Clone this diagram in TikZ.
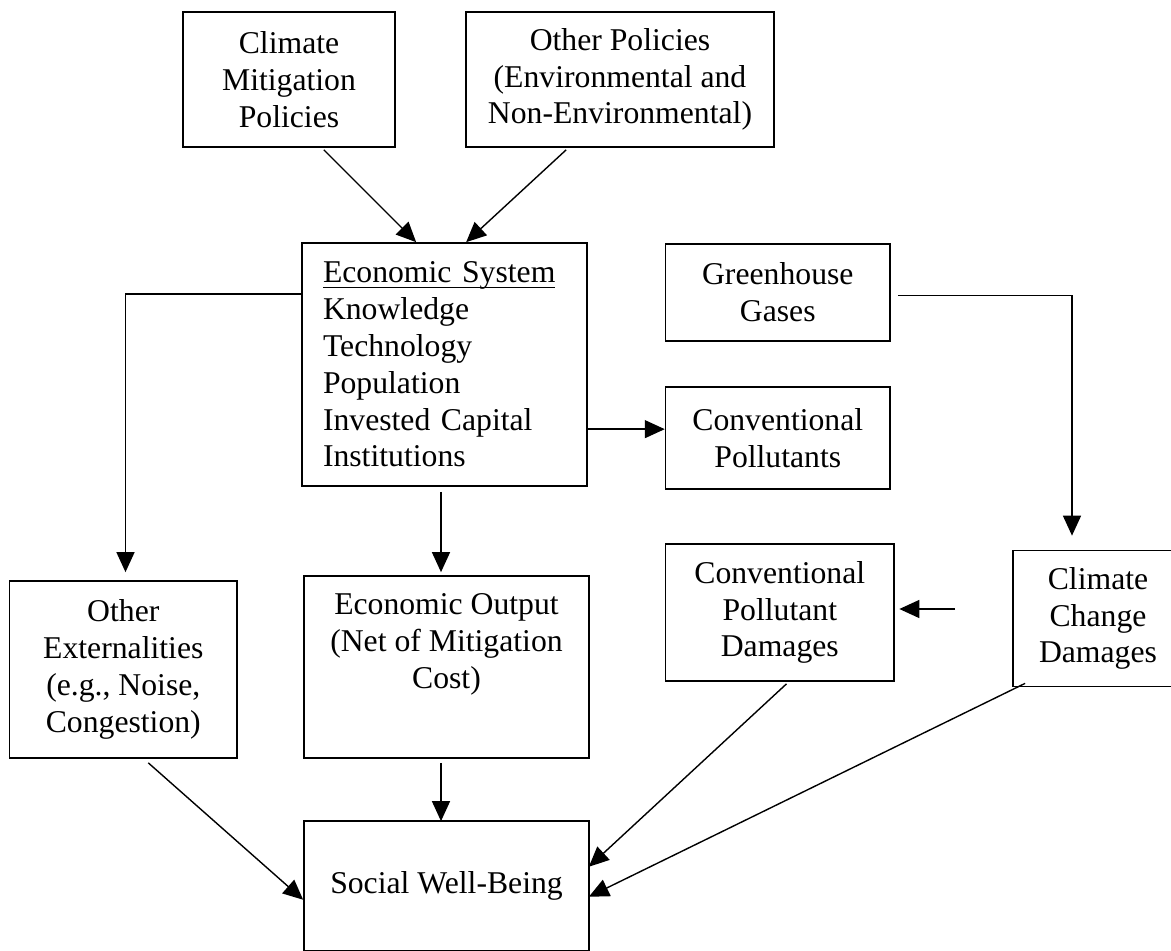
\documentclass[tikz,border=0pt]{standalone}
\usepackage{fontspec}
\setmainfont{Liberation Serif}
\usetikzlibrary{arrows.meta,calc}
\newcommand\ulbar[1]{\setbox0\hbox{#1}\rlap{\rule[-5.5pt]{\wd0}{1.5pt}}\box0}
\begin{document}
\begin{tikzpicture}[x=1pt,y=-1pt,
  font=\fontsize{31.7}{36.8}\selectfont,
  box/.style={draw, line width=1.7pt, inner sep=0pt, align=center},
  conn/.style={line width=1.4pt, -{Triangle[length=20pt,width=18pt]}}]
\fill[white] (0,0) rectangle (1171,951);
\useasboundingbox (0,0) rectangle (1171,951);

\node[box, minimum width=212pt, minimum height=135pt] (cmp) at (289,79.5) {Climate\\Mitigation\\Policies};
\node[box, minimum width=308pt, minimum height=135pt] (op) at (620,79.5) {Other Policies\\(Environmental and\\Non-Environmental)};
\node[box, align=left, text width=243pt, inner xsep=21pt, minimum width=285pt, minimum height=243pt] (es) at (444.5,364.5)
  {\ulbar{Economic System}\\Knowledge\\Technology\\Population\\Invested Capital\\Institutions};
\node[box, minimum width=224.4pt, minimum height=97pt] (ghg) at (777.8,292.5) {Greenhouse\\Gases};
\node[box, minimum width=224.4pt, minimum height=102pt] (cp) at (777.8,438) {Conventional\\Pollutants};
\node[box, minimum width=227.4pt, minimum height=177pt] (oe) at (123.3,669.5) {Other\\Externalities\\(e.g., Noise,\\Congestion)};
\node[box, minimum width=285pt, minimum height=182pt] (eo) at (446.5,667) {};
\node[anchor=north, align=center, inner sep=0pt] (eot) at (446.5,593.6) {Economic Output\\(Net of Mitigation\\Cost)};
\node[box, minimum width=228.4pt, minimum height=137pt] (cpd) at (779.8,612.5) {Conventional\\Pollutant\\Damages};
\node[box, minimum width=170pt, minimum height=136pt] (ccd) at (1098,618.5) {Climate\\Change\\Damages};
\node[box, minimum width=285pt, minimum height=129.5pt] (swb) at (446.5,885.75) {Social Well-Being};

\draw[conn] ([xshift=-72pt,yshift=-2pt]cmp.south east) -- ([xshift=115pt]es.north west);
\draw[conn] ([xshift=101pt,yshift=-2pt]op.south west) -- ([xshift=165pt]es.north west);
\draw[conn] ([yshift=-52pt]es.north west) -| ([xshift=2.2pt,yshift=8pt]oe.north);
\draw[conn] ([xshift=-3.5pt,yshift=-5pt]es.south) -- ([xshift=-5.5pt,yshift=3pt]eo.north);
\coordinate (escp) at ([yshift=-187pt]es.north east);
\draw[conn] (escp) -- (escp -| cp.west);
\draw[conn] ([xshift=7pt,yshift=-3pt]ghg.east) -| ([xshift=-26pt,yshift=14pt]ccd.north);
\draw[conn] ([xshift=-57pt,yshift=9.5pt]ccd.west) -- ([xshift=4.5pt,yshift=3.5pt]cpd.east);
\draw[conn] ([xshift=25pt,yshift=-4pt]oe.south) -- ([yshift=-14pt]swb.west);
\draw[conn] ([xshift=-5.5pt,yshift=-4pt]eo.south) -- ([xshift=-5.5pt,yshift=-1pt]swb.north);
\draw[conn] ([xshift=6.7pt,yshift=-2pt]cpd.south) -- ([xshift=-1pt,yshift=19pt]swb.east);
\draw[conn] ([xshift=13pt,yshift=4pt]ccd.south west) -- ([xshift=-1pt,yshift=-11pt]swb.east);
\end{tikzpicture}
\end{document}
